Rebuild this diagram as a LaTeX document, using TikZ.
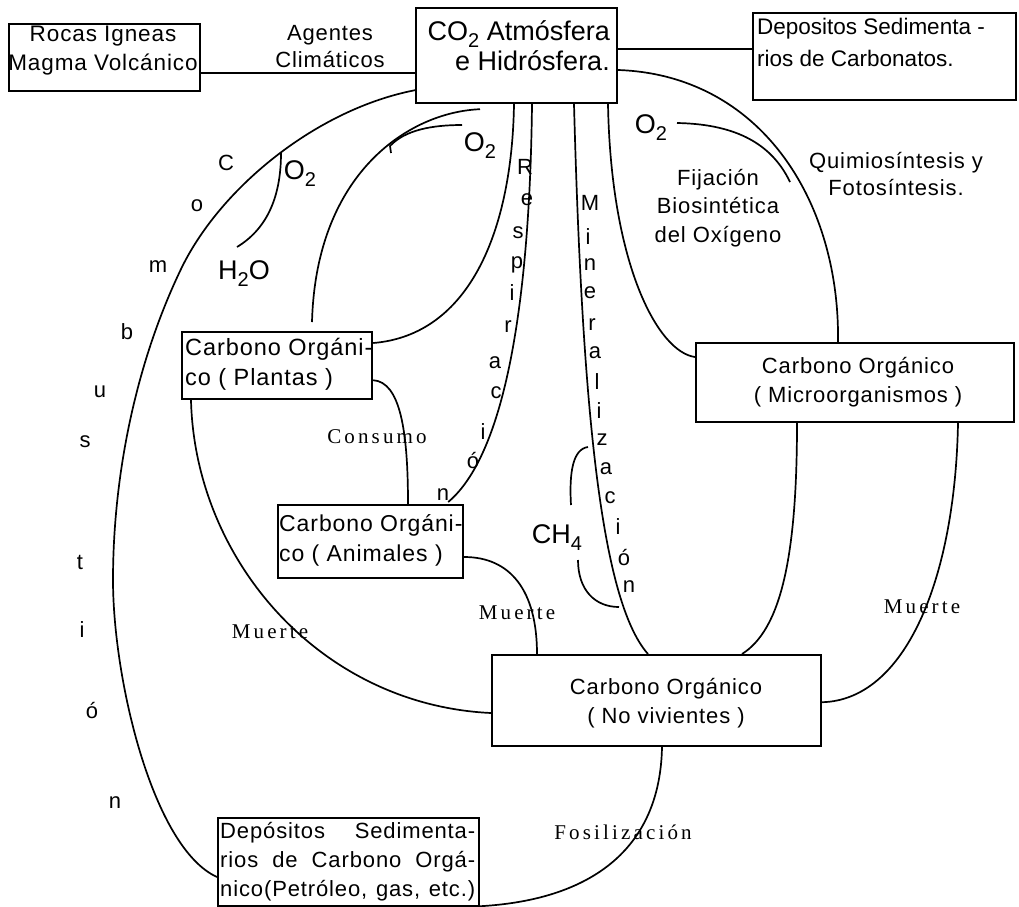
\documentclass[tikz,border=0pt]{standalone}
\usepackage{fontspec}
\usepackage{graphicx}
\setmainfont{Liberation Sans}
\newfontfamily\lsans[LetterSpace=4]{Liberation Sans}
\newfontfamily\rser[LetterSpace=15]{Liberation Serif}
\usetikzlibrary{calc}
\newcommand{\setfs}[2]{\fontsize{#1}{#2}\selectfont}
% chemical subscript, set low as in typewritten formulas
\newcommand{\sbs}[1]{\smash{\raisebox{-0.26em}{\scalebox{0.74}{#1}}}}

\begin{document}
\begin{tikzpicture}[x=1pt,y=-1pt,
  box/.style={draw, line width=2.2pt, inner sep=0pt, anchor=north west},
  conn/.style={line width=1.7pt},
  btxt/.style={inner sep=0pt, font={\lsans\setfs{22}{29}}},
  gas/.style={inner sep=0pt, font={\setfs{27}{30}}},
  ltr/.style={inner sep=0pt, font={\lsans\setfs{22}{24}}},
  ser/.style={inner sep=0pt, font={\rser\setfs{21}{24}}}]

\fill[white] (0,0) rectangle (1019,906);
\useasboundingbox (0,0) rectangle (1019,906);

% ---- boxes ----
\node[box, minimum width=191pt, minimum height=67pt] (rocas) at (8,23) {};
\node[box, minimum width=201pt, minimum height=95pt] (co2) at (415,7) {};
\node[box, minimum width=263pt, minimum height=87pt] (carb) at (752,12) {};
\node[box, minimum width=190pt, minimum height=67pt] (plantas) at (181,331) {};
\node[box, minimum width=185pt, minimum height=73pt] (animales) at (277,504) {};
\node[box, minimum width=318pt, minimum height=79pt] (micro) at (695,342) {};
\node[box, minimum width=329pt, minimum height=91pt] (novivo) at (491,654) {};
\node[box, minimum width=261pt, minimum height=88pt] (sedim) at (217,817) {};

% ---- box texts ----
\node[btxt, align=center, font={\lsans\setfs{22.5}{29}}] (rocasT) at (103,51) {Rocas Igneas\\Magma Volcánico};
\node[inner sep=0pt, font={\setfs{27}{30}}, align=right, anchor=east] (co2T) at (610,46) {CO\sbs{2} Atmósfera\\e Hidrósfera.};
\node[inner sep=0pt, font={\setfs{22.5}{32}}, align=left, anchor=west] (carbT) at (757,42) {Depositos Sedimenta -\\rios de Carbonatos.};
\node[btxt, align=left, anchor=west, font={\lsans\setfs{23.5}{30}}] (plantasT) at (185,364) {Carbono Orgáni-\\co ( Plantas )};
\node[btxt, align=left, anchor=west, font={\lsans\setfs{23}{30}}] (animalesT) at (279,540) {Carbono Orgáni-\\co ( Animales )};
\node[btxt, align=center] (microT) at (858,382) {Carbono Orgánico\\( Microorganismos )};
\node[btxt, align=center] (novivoT) at (666,703) {Carbono Orgánico\\( No vivientes )};
\node[btxt, align=left, anchor=west] (sedimT) at (220,862)
  {\makebox[255pt][s]{Depósitos Sedimenta-}\\\makebox[255pt][s]{rios de Carbono Orgá-}\\\makebox[255pt][s]{nico(Petróleo, gas, etc.)}};

% ---- flow labels ----
\node[btxt, align=center, font={\lsans\setfs{22}{27}}] (agentes) at (330,47) {Agentes\\Climáticos};
\node[btxt, align=center, font={\lsans\setfs{22}{28.5}}] (fijacion) at (718,208) {Fijación\\Biosintética\\del Oxígeno};
\node[btxt, align=center, font={\lsans\setfs{22}{28}}] (quimio) at (896,174) {Quimiosíntesis y\\Fotosíntesis.};
\node[ser] (consumo) at (377,437) {Consumo};
\node[ser] (muerteL) at (270,632) {Muerte};
\node[ser] (muerteM) at (517,613) {Muerte};
\node[ser] (muerteR) at (922,607) {Muerte};
\node[ser] (fosil) at (623,832) {Fosilización};

% ---- gases ----
\node[gas] (o2a) at (300,170) {O\sbs{2}};
\node[gas] (h2o) at (244,270) {H\sbs{2}O};
\node[gas] (o2b) at (480,142) {O\sbs{2}};
\node[gas] (o2c) at (651,124) {O\sbs{2}};
\node[gas] (ch4) at (557,534) {CH\sbs{4}};

% ---- vertical words ----
\foreach \l/\x/\y [count=\i] in {C/226/163, o/197/206, m/158/267, b/127/332, u/100/392,
    s/85/442, t/80/562, i/82/630, ó/92/710, n/115/803}
  \node[ltr] (comb\i) at (\x,\y) {\l};
\foreach \l/\x/\y [count=\i] in {R/525/167, e/527/200, s/518/233, p/517/265, i/512/293,
    r/508/327, a/495/363, c/496/393, i/483/432, ó/473/460, n/443/495}
  \node[ltr] (resp\i) at (\x,\y) {\l};
\foreach \l/\x/\y [count=\i] in {M/590/203, i/588/237, n/590/265, e/590/293, r/592/325,
    a/595/353, l/597/382, i/599/411, z/602/440, a/606/469, c/610/498, i/618/527,
    ó/624/557, n/629/587}
  \node[ltr] (mine\i) at (\x,\y) {\l};

% ---- connectors ----
% weathering and carbonate deposits
\draw[conn] ($(rocas.south east)+(0,-19)$) -- ($(co2.south west)+(0,-31)$);
\draw[conn] ($(co2.north east)+(0,42)$) -- ($(carb.north west)+(0,37)$);

% combustion loop
\draw[conn] ($(co2.south west)+(0,-14)$) .. controls (318,109) and (222,186) .. (182,267)
  .. controls (134,366) and (113,480) .. (113,580)
  .. controls (113,680) and (153,848) .. ($(sedim.north west)+(0,60)$);

% water and oxygen in combustion
\coordinate (o2aEnd) at (281,153);
\coordinate (h2oEnd) at (237,247);
\draw[conn] (o2aEnd) .. controls (281,200) and (265,230) .. (h2oEnd);

% photosynthesis uptake by plants
\draw[conn] ($(co2.south west)+(65,5)$) .. controls (410,112) and (316,172) .. ($(plantas.north west)+(131,-9)$);
\coordinate (o2bEnd) at (462,125);
\draw[conn] (o2bEnd) .. controls (432,125) and (405,130) .. (390,146) -- (391,153);

% plant respiration
\draw[conn] ($(co2.south west)+(99,0)$) .. controls (512,230) and (470,335) .. ($(plantas.north east)+(0,12)$);
% animal respiration
\draw[conn] ($(co2.south west)+(117,0)$) .. controls (530,280) and (510,450) .. ($(animales.north east)+(-16,-2)$);
% mineralization
\draw[conn] ($(co2.south west)+(159,0)$) .. controls (582,400) and (600,600) .. ($(novivo.north west)+(157,0)$);
% methane
\coordinate (ch4a) at (588,447);
\coordinate (ch4b) at (571,505);
\coordinate (ch4c) at (578,560);
\coordinate (ch4d) at (619,607);
\draw[conn] (ch4a) .. controls (573,449) and (569,472) .. (ch4b);
\draw[conn] (ch4c) .. controls (578,590) and (595,607) .. (ch4d);

% biosynthetic fixation
\draw[conn] ($(co2.south west)+(193,0)$) .. controls (611,265) and (658,352) .. ($(micro.north west)+(0,15)$);
% chemosynthesis and photosynthesis
\draw[conn] ($(co2.north east)+(0,63)$) .. controls (760,75) and (840,200) .. ($(micro.north west)+(143,0)$);
\coordinate (o2cEnd) at (677,123);
\draw[conn] (o2cEnd) .. controls (730,124) and (770,140) .. (790,182);

% consumption
\draw[conn] ($(plantas.south east)+(0,-20)$) .. controls (400,382) and (408,430) .. ($(animales.north west)+(131,0)$);

% death
\draw[conn] ($(plantas.south west)+(10,0)$) .. controls (195,560) and (320,705) .. ($(novivo.north west)+(0,59)$);
\draw[conn] ($(animales.north east)+(0,53)$) .. controls (510,557) and (537,590) .. ($(novivo.north west)+(46,0)$);
\draw[conn] ($(micro.south west)+(102,0)$) .. controls (797,560) and (780,630) .. ($(novivo.north west)+(251,0)$);
\draw[conn] ($(micro.south west)+(263,0)$) .. controls (955,580) and (905,700) .. ($(novivo.south east)+(0,-45)$);

% fossilization
\draw[conn] ($(novivo.south west)+(171,0)$) .. controls (660,850) and (590,900) .. ($(sedim.south east)+(0,-1)$);

\end{tikzpicture}
\end{document}
